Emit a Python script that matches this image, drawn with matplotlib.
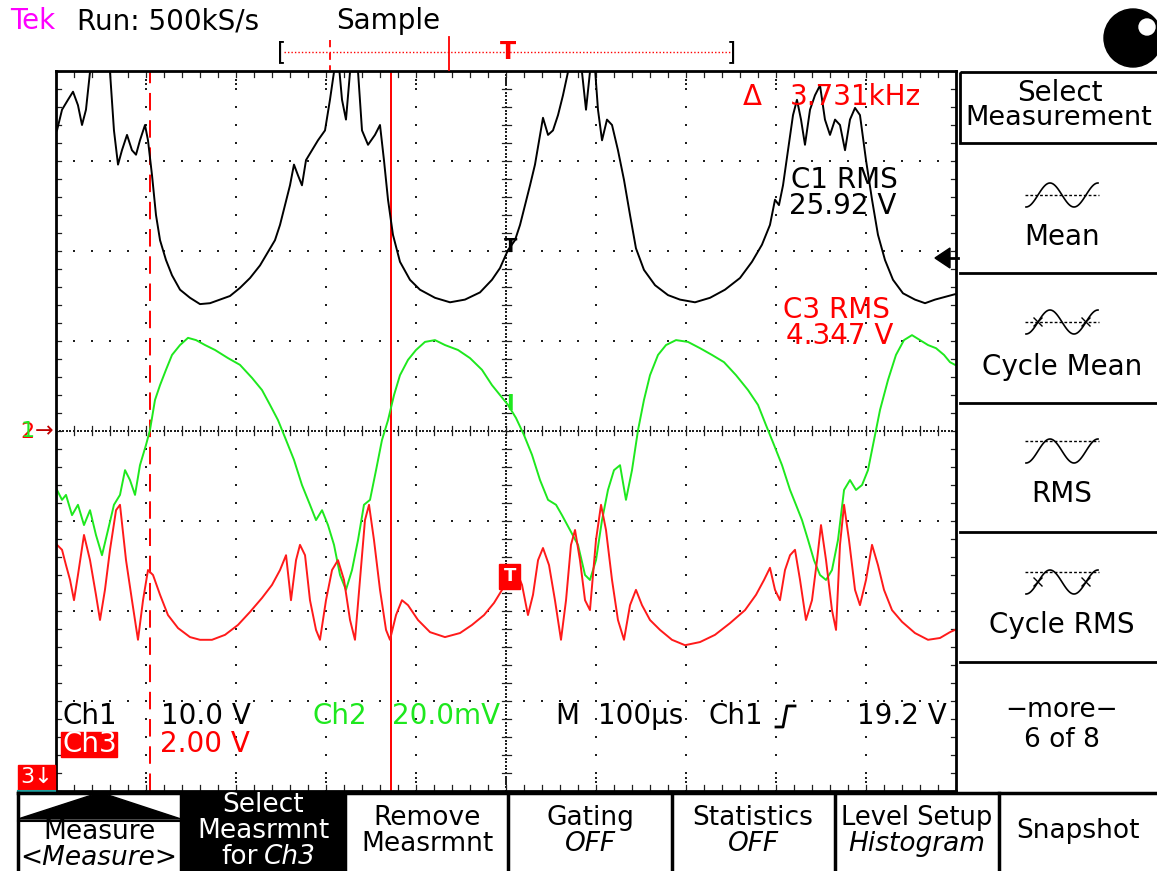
import numpy as np
import matplotlib.pyplot as plt
from matplotlib.patches import Rectangle, Polygon, Circle

# ---- waveform data (time in us, 100 us/div) ----
t1 = [1.1, 6.7, 13.3, 18.9, 24.4, 28.9, 33.3, 37.8, 43.3, 54.4, 60.0, 64.4, 68.9, 73.3,
      78.9, 84.4, 88.9, 93.3, 98.9, 102.2, 106.7, 111.1, 115.6, 122.2, 128.9, 137.8,
      148.9, 160.0, 171.1, 182.2, 193.3, 204.4, 215.6, 226.7, 235.6, 243.3, 248.9,
      254.4, 260.0, 264.4, 268.9, 273.3, 277.8, 284.4, 291.1, 298.9, 304.4, 308.9,
      313.3, 317.8, 322.2, 326.7, 331.1, 335.6, 340.0, 346.7, 354.4, 360.0, 364.4,
      368.9, 374.4, 382.2, 393.3, 404.4, 421.1, 437.8, 454.4, 471.1, 484.4, 493.3,
      502.2, 510.0, 515.6, 521.1, 526.7, 532.2, 537.8, 541.1, 546.7, 552.2, 557.8,
      563.3, 568.9, 573.3, 580.0, 584.4, 588.9, 593.3, 597.8, 602.2, 606.7, 612.2,
      617.8, 624.4, 631.1, 637.8, 644.4, 653.3, 665.6, 680.0, 693.3, 710.0, 726.7,
      743.3, 760.0, 773.3, 784.4, 793.3, 798.9, 803.3, 807.8, 813.3, 818.9, 823.3,
      827.8, 832.2, 837.8, 843.3, 848.9, 854.4, 860.0, 865.6, 871.1, 876.7, 882.2,
      887.8, 893.3, 900.0, 906.7, 913.3, 921.1, 930.0, 941.1, 954.4, 965.6, 976.7,
      987.8, 998.9]
ch1_v = [33.4, 35.7, 36.8, 37.7, 36.2, 34.0, 35.7, 39.9, 41.8, 41.8, 39.9, 33.4, 29.6, 31.2,
         32.9, 31.2, 30.7, 32.3, 34.0, 32.3, 28.4, 24.0, 21.2, 19.0, 17.3, 15.7,
         14.8, 14.1, 14.2, 14.6, 15.0, 15.9, 17.0, 18.4, 19.9, 21.2, 22.9,
         25.1, 27.3, 29.6, 28.4, 27.3, 30.1, 31.2, 32.3, 33.4, 36.8, 39.9,
         41.8, 36.8, 34.6, 39.9, 41.8, 39.9, 33.4, 31.8, 32.9, 34.0, 30.1,
         25.7, 21.8, 18.8, 16.8, 15.7, 14.8, 14.3, 14.6, 15.4, 16.8, 18.1,
         20.1, 21.2, 22.9, 25.1, 27.3, 29.6, 32.9, 34.8, 32.9, 33.4, 35.1,
         37.3, 39.9, 41.8, 41.8, 39.9, 35.7, 39.9, 41.8, 35.7, 32.3, 34.6,
         34.0, 31.2, 27.9, 24.0, 20.3, 17.9, 16.2, 15.1, 14.6, 14.3, 14.8,
         15.7, 17.0, 18.8, 20.7, 22.9, 25.7, 25.1, 27.3, 31.2, 35.1, 36.8,
         34.6, 31.8, 35.7, 37.3, 38.4, 34.6, 32.9, 34.6, 34.0, 31.2, 34.6,
         35.9, 35.1, 30.1, 25.7, 21.8, 19.0, 16.8, 15.3, 14.6, 14.2, 14.6,
         14.9, 15.2]

t2 = [1.1, 6.7, 11.1, 17.8, 24.4, 31.1, 37.8, 44.4, 51.1, 57.8, 64.4, 71.1, 76.7, 82.2,
      87.8, 93.3, 100.0, 104.4, 110.0, 115.6, 122.2, 128.9, 137.8, 146.7, 155.6, 165.6,
      176.7, 191.1, 204.4, 217.8, 228.9, 237.8, 246.7, 255.6, 264.4, 273.3, 282.2,
      288.9, 295.6, 302.2, 308.9, 315.6, 322.2, 328.9, 335.6, 342.2, 348.9, 355.6,
      362.2, 368.9, 375.6, 382.2, 391.1, 400.0, 410.0, 421.1, 432.2, 446.7, 460.0,
      473.3, 484.4, 493.3, 502.2, 511.1, 520.0, 528.9, 537.8, 546.7, 555.6, 562.2,
      571.1, 580.0, 587.8, 593.3, 600.0, 606.7, 613.3, 620.0, 626.7, 633.3, 640.0,
      646.7, 653.3, 660.0, 668.9, 677.8, 688.9, 702.2, 715.6, 728.9, 742.2, 755.6,
      768.9, 780.0, 788.9, 797.8, 806.7, 815.6, 822.2, 828.9, 835.6, 842.2, 848.9,
      855.6, 862.2, 868.9, 875.6, 882.2, 888.9, 895.6, 902.2, 908.9, 915.6, 924.4,
      933.3, 942.2, 951.1, 960.0, 968.9, 977.8, 986.7, 993.3, 998.9]
ch2_mv = [-13.1, -15.3, -14.2, -18.7, -16.4, -20.9, -17.6, -23.1, -27.6, -22.0, -16.4, -14.2,
          -8.7, -10.9, -14.2, -7.6, -3.1, 0.2, 6.9, 10.2, 13.6, 16.9, 19.1, 20.7, 20.2,
          19.1, 18.0, 16.2, 14.7, 11.8, 9.1, 5.8, 2.4, -2.0, -6.4, -12.0, -16.4, -19.8,
          -17.6, -20.9, -25.3, -32.0, -35.3, -30.9, -24.2, -16.4, -15.3, -8.7, -2.0, 2.4,
          8.0, 12.4, 15.8, 18.0, 19.8, 20.2, 19.1, 18.0, 16.2, 13.6, 10.2, 8.0, 5.8, 2.9,
          -0.9, -5.3, -10.9, -15.3, -16.4, -18.7, -22.0, -25.3, -32.0, -33.1, -28.7,
          -19.8, -13.1, -8.7, -7.6, -15.3, -8.7, 0.2, 6.9, 12.4, 16.9, 19.1, 20.2, 19.8,
          18.4, 16.9, 15.3, 12.4, 9.1, 5.8, 1.3, -3.1, -7.6, -13.1, -16.4, -19.8, -24.2,
          -28.7, -32.0, -33.1, -30.9, -24.2, -13.1, -10.9, -13.1, -12.0, -8.7, -2.0, 4.7,
          11.3, 16.9, 20.2, 21.3, 20.2, 19.1, 18.4, 16.9, 15.3, 14.7]

t3 = [1.1, 6.7, 11.1, 15.6, 20.0, 24.4, 31.1, 37.8, 44.4, 48.9, 54.4, 60.0, 66.7, 71.1,
      77.8, 84.4, 91.1, 96.7, 102.2, 107.8, 115.6, 124.4, 135.6, 148.9, 160.0, 173.3,
      187.8, 202.2, 215.6, 228.9, 240.0, 248.9, 255.6, 261.1, 266.7, 271.1, 276.7,
      282.2, 288.9, 293.3, 300.0, 306.7, 313.3, 320.0, 326.7, 332.2, 337.8, 343.3,
      347.8, 353.3, 360.0, 366.7, 371.1, 377.8, 384.4, 391.1, 402.2, 415.6, 432.2,
      448.9, 462.2, 475.6, 486.7, 495.6, 504.4, 511.1, 517.8, 524.4, 530.0, 535.6,
      541.1, 547.8, 554.4, 561.1, 566.7, 572.2, 576.7, 582.2, 587.8, 593.3, 600.0,
      605.6, 611.1, 617.8, 624.4, 631.1, 637.8, 644.4, 651.1, 660.0, 671.1, 684.4,
      698.9, 715.6, 732.2, 748.9, 765.6, 777.8, 786.7, 793.3, 798.9, 804.4, 810.0,
      815.6, 821.1, 826.7, 833.3, 840.0, 845.6, 850.0, 855.6, 862.2, 866.7, 871.1,
      875.6, 881.1, 887.8, 893.3, 900.0, 906.7, 913.3, 920.0, 928.9, 940.0, 954.4,
      968.9, 982.2, 993.3, 998.9]
ch3_v = [7.47, 7.36, 7.02, 6.69, 6.24, 6.80, 7.69, 7.13, 6.36, 5.80, 6.47, 7.36, 8.24, 8.36,
         7.13, 6.24, 5.36, 6.24, 6.91, 6.80, 6.36, 5.91, 5.62, 5.42, 5.36, 5.36, 5.47,
         5.69, 5.98, 6.29, 6.58, 6.91, 7.24, 6.24, 7.13, 7.47, 7.24, 6.24, 5.58, 5.36,
         6.24, 6.91, 7.13, 6.69, 5.80, 5.36, 6.69, 8.02, 8.36, 7.58, 6.47, 5.58, 5.36,
         5.91, 6.24, 6.13, 5.80, 5.53, 5.42, 5.51, 5.69, 5.91, 6.18, 6.47, 6.80, 6.91,
         6.58, 5.91, 6.36, 7.13, 7.40, 7.02, 6.24, 5.36, 6.24, 7.47, 7.80, 7.13, 6.24,
         6.02, 7.58, 8.36, 7.80, 6.69, 5.80, 5.36, 6.13, 6.47, 6.13, 5.80, 5.58, 5.36,
         5.24, 5.31, 5.47, 5.73, 6.02, 6.36, 6.69, 6.96, 6.47, 6.24, 6.91, 7.24, 7.36,
         6.69, 5.80, 6.24, 7.13, 7.91, 7.13, 6.02, 5.58, 7.47, 8.36, 7.58, 6.47, 6.13,
         6.69, 7.47, 7.02, 6.47, 6.02, 5.76, 5.51, 5.36, 5.40, 5.53, 5.58]

ch1_scale = 10.0      # V/div
ch2_scale = 20.0      # mV/div
ch3_scale = 2.0       # V/div
ch3_pos = -5.0        # div (ground below the screen)
trig_level = 19.2     # V, Ch1
cursor_t = [104.0, 372.0]   # us

W, H = 1157, 871
fig = plt.figure(figsize=(W / 100, H / 100), dpi=100)
fig.patch.set_facecolor('white')

# graticule axes: 10 x 8 divisions
ax = fig.add_axes([56 / W, (H - 791) / H, 900 / W, 720 / H])
ax.set_xlim(0, 1000)
ax.set_ylim(-4, 4)
ax.set_xticks([])
ax.set_yticks([])
for s in ax.spines.values():
    s.set_linewidth(2)
    s.set_color('black')

GC = '#202020'
dot = dict(ls='none', marker='s', ms=1.5, color=GC, mew=0)
ys = np.arange(-4, 4.01, 0.2)
xs = np.arange(0, 1000.1, 20)
for xv in [100, 200, 300, 400, 600, 700, 800, 900]:
    ax.plot(np.full_like(ys, xv), ys, **dot)
for yv in [-3, -2, -1, 1, 2, 3]:
    ax.plot(xs, np.full_like(xs, yv), **dot)
# center lines, dense dots with cross ticks
yd = np.arange(-4, 4.01, 0.04)
xd = np.arange(0, 1000.1, 4)
ax.plot(np.full_like(yd, 500), yd, **dot)
ax.plot(xd, np.zeros_like(xd), **dot)
for yv in ys:
    ax.plot([495, 505], [yv, yv], color=GC, lw=0.9)
for xv in xs:
    ax.plot([xv, xv], [-0.05, 0.05], color=GC, lw=0.9)
# border ticks
for xv in xs:
    ax.plot([xv, xv], [3.93, 4], color=GC, lw=0.9)
    ax.plot([xv, xv], [-4, -3.93], color=GC, lw=0.9)
for yv in ys:
    ax.plot([0, 6], [yv, yv], color=GC, lw=0.9)
    ax.plot([994, 1000], [yv, yv], color=GC, lw=0.9)
for xv in [100, 200, 300, 400, 500, 600, 700, 800, 900]:
    for yy in [3.9, 3.86, -3.9, -3.86]:
        ax.plot([xv], [yy], **dot)

# cursors
ax.axvline(cursor_t[0], color='red', lw=1.4, ls=(0, (9, 5)))
ax.axvline(cursor_t[1], color='red', lw=1.4)

# traces
ax.plot(t2, np.array(ch2_mv) / ch2_scale, color='#1ee81e', lw=1.4)
ax.plot(t3, np.array(ch3_v) / ch3_scale + ch3_pos, color='#ff1a1a', lw=1.4)
ax.plot(t1, np.array(ch1_v) / ch1_scale, color='black', lw=1.4)

# ---- overlay in pixel coordinates ----
ov = fig.add_axes([0, 0, 1, 1], zorder=5)
ov.set_xlim(0, W)
ov.set_ylim(H, 0)
ov.axis('off')
ov.patch.set_alpha(0)

FS = 20


def txt(x, y, s, color='black', ha='left', fs=FS, style='normal', **kw):
    ov.text(x, y, s, color=color, ha=ha, va='center', fontsize=fs,
            family='DejaVu Sans', style=style, **kw)


# header
txt(10, 21, 'Tek', color='#ff00ff')
txt(77, 21, 'Run: 500kS/s')
txt(336, 21, 'Sample')
ov.plot([284, 730], [52, 52], color='red', lw=1, ls=(0, (1, 1.5)))
txt(277, 52, '[', fs=17)
txt(727, 52, ']', fs=17)
ov.plot([330, 330], [40, 70], color='red', lw=1.3, ls=(0, (4, 3)))
ov.plot([449, 449], [37, 70], color='red', lw=1.3)
txt(508, 52, 'T', color='red', ha='center', fs=17, weight='bold')
ov.add_patch(Circle((1133, 38), 29, color='black'))
ov.add_patch(Circle((1147, 27), 8, color='white'))

# on-screen readouts
txt(743, 97, 'Δ', color='red')
txt(790, 97, '3.731kHz', color='red')
txt(791, 180, 'C1 RMS')
txt(789, 206, '25.92 V')
txt(783, 310, 'C3 RMS', color='red')
txt(786, 336, '4.347 V', color='red')

txt(62, 716, 'Ch1')
txt(161, 716, '10.0 V')
txt(313, 716, 'Ch2', color='#1ee81e')
txt(392, 716, '20.0mV', color='#1ee81e')
txt(555, 716, 'M')
txt(598, 716, '100µs')
txt(709, 716, 'Ch1')
ov.plot([776, 783, 787, 795], [727, 727, 706, 706], color='black', lw=2)
txt(857, 716, '19.2 V')
ov.add_patch(Rectangle((61, 732), 56, 25, color='red'))
txt(62, 744, 'Ch3', color='white')
txt(160, 744, '2.00 V', color='red')

# channel markers
ov.add_patch(Rectangle((18, 765), 37, 25, color='red'))
txt(20, 777, '3↓', color='white', fs=16)
ov.plot([18, 55], [791, 791], color='#20a0a0', lw=1.5)
txt(20, 432, '2', color='red', fs=16)
txt(21, 431, '1', color='#1ee81e', fs=16)
txt(35, 431, '→', color='#c00000', fs=16)
ov.add_patch(Polygon([[935, 258], [950, 248], [950, 268]], color='black'))
ov.plot([950, 958], [258, 258], color='black', lw=2)

# trigger point marks on the traces
txt(511, 246, 'T', ha='center', fs=14, weight='bold')
txt(510, 404, 'I', color='#1ee81e', ha='center', fs=15, weight='bold')
ov.add_patch(Rectangle((499, 564), 21, 25, color='red'))
txt(510, 576, 'T', color='white', ha='center', fs=13, weight='bold')

# right-hand menu
ov.add_patch(Rectangle((960, 72), 200, 71, fill=False, lw=2, ec='black'))
txt(1060, 93, 'Select', ha='center')
txt(1059, 118, 'Measurement', ha='center', fs=19.5)
for yy in [273, 403, 532, 662]:
    ov.plot([960, 1157], [yy, yy], color='black', lw=2)


def icon(cx, cy, top=False, cross=False):
    u = np.linspace(0, 1, 80)
    ov.plot(cx - 36 + 72 * u, cy + 12 * np.cos(3 * np.pi * u), color='black', lw=1.2)
    yl = cy - 10 if top else cy
    ov.plot([cx - 37, cx + 37], [yl, yl], color='black', lw=1, ls=(0, (2, 1.5)))
    if cross:
        for xc in [cx - 24, cx + 24]:
            ov.plot([xc - 4, xc + 4], [cy - 4, cy + 4], color='black', lw=1)
            ov.plot([xc - 4, xc + 4], [cy + 4, cy - 4], color='black', lw=1)


icon(1062, 195)
txt(1062, 237, 'Mean', ha='center')
icon(1062, 322, cross=True)
txt(1062, 367, 'Cycle Mean', ha='center')
icon(1062, 451, top=True)
txt(1062, 494, 'RMS', ha='center')
icon(1062, 582, top=True, cross=True)
txt(1062, 625, 'Cycle RMS', ha='center')
txt(1062, 710, '−more−', ha='center', fs=19)
txt(1062, 740, '6 of 8', ha='center', fs=19)

# bottom menu
MF = 19
ov.plot([18, 1157], [793, 793], color='black', lw=2.5)
for xx in [18, 181, 345, 508, 672, 835, 999]:
    ov.plot([xx, xx], [793, 871], color='black', lw=2.5)
ov.add_patch(Polygon([[18, 819], [92, 795], [108, 795], [181, 819]], color='black'))
ov.plot([18, 181], [821, 821], color='black', lw=1.5)
txt(99, 832, 'Measure', ha='center', fs=MF)
txt(99, 858, '<Measure>', ha='center', style='italic', fs=MF)
ov.add_patch(Rectangle((182, 794), 162, 77, color='black'))
txt(263, 805, 'Select', ha='center', color='white', fs=MF)
txt(263, 831, 'Measrmnt', ha='center', color='white', fs=MF)
txt(258, 857, 'for', ha='right', color='white', fs=MF)
txt(264, 857, 'Ch3', color='white', style='italic', fs=MF)
txt(427, 818, 'Remove', ha='center', fs=MF)
txt(427, 844, 'Measrmnt', ha='center', fs=MF)
txt(590, 818, 'Gating', ha='center', fs=MF)
txt(590, 844, 'OFF', ha='center', style='italic', fs=MF)
txt(753, 818, 'Statistics', ha='center', fs=MF)
txt(753, 844, 'OFF', ha='center', style='italic', fs=MF)
txt(917, 818, 'Level Setup', ha='center', fs=18.5)
txt(917, 844, 'Histogram', ha='center', style='italic', fs=MF)
txt(1078, 831, 'Snapshot', ha='center', fs=MF)

fig.savefig('out.png', dpi=100)
